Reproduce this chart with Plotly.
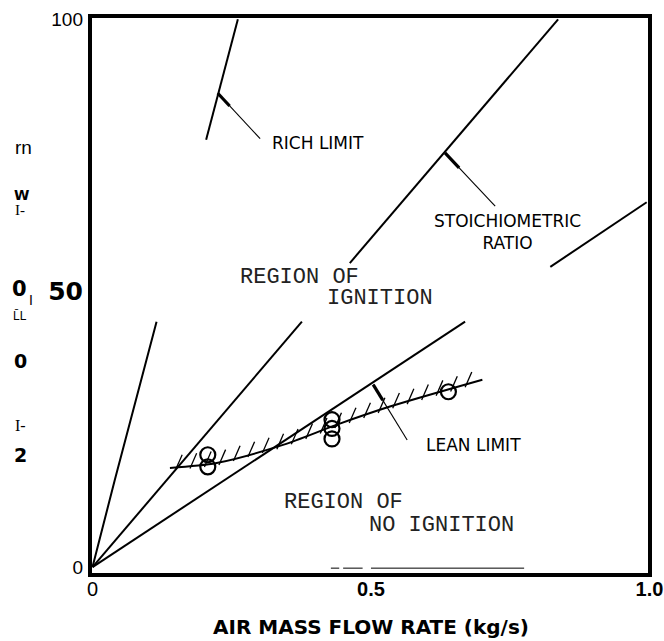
import numpy as np
import plotly.graph_objects as go

# ---------------- data ----------------
rich_upper_x = [0.204, 0.225, 0.261]
rich_upper_y = [78.0, 86.3, 100.0]
rich_lower_x = [0.0, 0.040, 0.115]
rich_lower_y = [0.0, 15.9, 44.8]

stoich_low_x = [0.0, 0.376]
stoich_low_y = [0.0, 44.8]
stoich_up_x = [0.462, 0.836]
stoich_up_y = [55.5, 100.0]

lean_line_low_x = [0.0, 0.669]
lean_line_low_y = [0.0, 44.8]
lean_line_up_x = [0.822, 0.995]
lean_line_up_y = [54.8, 66.6]

lean_curve_x = [0.139, 0.223, 0.342, 0.439, 0.534, 0.700]
lean_curve_y = [18.1, 19.0, 22.3, 26.0, 29.3, 34.2]

test_x = [0.207, 0.207, 0.430, 0.430, 0.430, 0.639]
test_y = [20.5, 18.3, 26.9, 25.3, 23.4, 32.0]

# leader lines: [text end, kink on curve]
rich_leader_x = [0.301, 0.225]
rich_leader_y = [78.2, 86.5]
stoich_leader_x = [0.723, 0.633]
stoich_leader_y = [65.9, 75.6]
lean_leader_x = [0.565, 0.504]
lean_leader_y = [23.2, 33.3]

base_mark_x = [0.428, 0.443, None, 0.450, 0.485, None, 0.500, 0.775]
base_mark_y = [-0.2, -0.2, None, -0.2, -0.2, None, -0.2, -0.2]

x_tickvals = [0, 0.5, 1.0]
x_ticktext = ["0", "<b>0.5</b>", "<b>1.0</b>"]
y_tickvals = [0, 50, 100]
y_ticktext = ["0", "<span style='font-size:25px;font-family:DejaVu Sans'><b>50</b></span>", "100"]

# ---------------- figure ----------------
fig = go.Figure()


def line(x, y, w=2.0):
    fig.add_trace(go.Scatter(x=x, y=y, mode="lines",
                             line=dict(color="black", width=w),
                             hoverinfo="skip", showlegend=False))


line(rich_upper_x, rich_upper_y)
line(rich_lower_x, rich_lower_y)
line(stoich_low_x, stoich_low_y)
line(stoich_up_x, stoich_up_y)
line(lean_line_low_x, lean_line_low_y)
line(lean_line_up_x, lean_line_up_y)

fig.add_trace(go.Scatter(x=lean_curve_x, y=lean_curve_y, mode="lines",
                         line=dict(color="black", width=2, shape="spline", smoothing=0.8),
                         hoverinfo="skip", showlegend=False))

# hatching on the ignition side of the lean limit
hx, hy = [], []
for xv in np.arange(0.150, 0.690, 0.026):
    yv = float(np.interp(xv, lean_curve_x, lean_curve_y))
    hx += [xv - 0.001, xv + 0.011, None]
    hy += [yv - 0.5, yv + 2.3, None]
line(hx, hy, 1.3)

# leader lines with a thicker part near the curve
for lx, ly in [(rich_leader_x, rich_leader_y), (stoich_leader_x, stoich_leader_y),
               (lean_leader_x, lean_leader_y)]:
    line(lx, ly, 1.1)
    t = 0.28
    bx = [lx[1], lx[1] + (lx[0] - lx[1]) * t]
    by = [ly[1], ly[1] + (ly[0] - ly[1]) * t]
    line(bx, by, 3.2)

fig.add_trace(go.Scatter(x=test_x, y=test_y, mode="markers",
                         marker=dict(symbol="circle-open", size=15, color="black",
                                     line=dict(color="black", width=2.2)),
                         hoverinfo="skip", showlegend=False))

line(base_mark_x, base_mark_y, 1.0)

# ---------------- text ----------------
ann = []
sans = dict(family="DejaVu Sans", size=17, color="black")
mono = dict(family="Liberation Mono, Courier New, monospace", size=22, color="#222222")


def txt(x, y, s, font, xanchor="left", xref="x", yref="y"):
    ann.append(dict(x=x, y=y, xref=xref, yref=yref, text=s, showarrow=False,
                    xanchor=xanchor, yanchor="middle", font=font))


txt(0.318, 77.4, "RICH LIMIT", sans)
txt(0.745, 61.1, "STOICHIOMETRIC<br>RATIO", sans, "center")
txt(0.596, 22.2, "LEAN LIMIT", sans)
txt(0.261, 52.8, "REGION OF", mono)
txt(0.417, 49.0, "IGNITION", mono)
txt(0.340, 11.7, "REGION OF", mono)
txt(0.493, 7.5, "NO IGNITION", mono)

W, L, R = 664, 90, 14


def P(px, py):
    return (px - L) / float(W - L - R), (575 - py) / 559.0


def ptxt(px, py, s, font, xanchor="center"):
    x, y = P(px, py)
    txt(x, y, s, font, xanchor, "paper", "paper")


ptxt(371, 627, "<b>AIR MASS FLOW RATE (kg/s)</b>", dict(family="DejaVu Sans", size=20, color="black"))
ptxt(23, 147, "rn", dict(family="Liberation Sans", size=19, color="black"))
ptxt(21, 195, "<b>W</b>", dict(family="DejaVu Sans", size=14, color="black"))
ptxt(20, 210, "I-", dict(family="Liberation Serif", size=15, color="black"))
ptxt(19, 289, "<b>0</b>", dict(family="DejaVu Sans", size=21, color="black"))
ptxt(31, 300, "I", dict(family="Liberation Sans", size=14, color="black"))
ptxt(20, 316, "L\u0304L", dict(family="Liberation Sans", size=12, color="black"))
ptxt(20, 361, "<b>0</b>", dict(family="DejaVu Sans", size=19, color="black"))
ptxt(20, 425, "I-", dict(family="Liberation Serif", size=16, color="black"))
ptxt(20, 455, "<b>2</b>", dict(family="DejaVu Sans", size=19, color="black"))

fig.update_layout(
    width=W, height=641,
    margin=dict(l=L, r=R, t=16, b=66, autoexpand=False),
    paper_bgcolor="white", plot_bgcolor="white",
    showlegend=False,
    annotations=ann,
    shapes=[dict(type="rect", xref="paper", yref="paper", x0=0, x1=1, y0=0, y1=1,
                 line=dict(color="black", width=4), layer="above")],
    xaxis=dict(range=[-0.0045, 1.001], showgrid=False, zeroline=False, showline=False,
               automargin=False, ticklabeloverflow="allow",
               ticks="", tickvals=x_tickvals, ticktext=x_ticktext,
               tickfont=dict(family="Liberation Sans", size=20, color="black")),
    yaxis=dict(range=[-1.45, 100.6], showgrid=False, zeroline=False, showline=False,
               automargin=False, ticklabeloverflow="allow",
               ticks="", tickvals=y_tickvals, ticktext=y_ticktext, ticklabelstandoff=6,
               tickfont=dict(family="Liberation Sans", size=19, color="black")),
)

fig.write_html("out.html")
